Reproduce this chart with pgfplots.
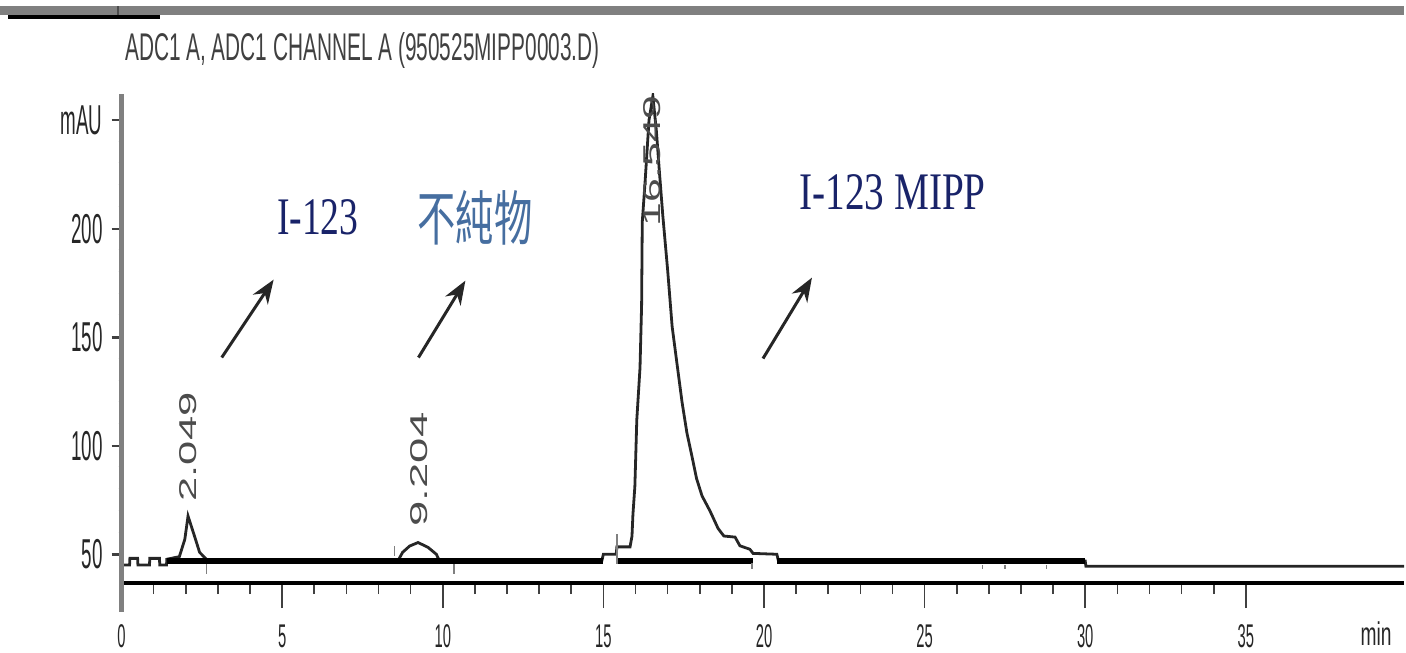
\documentclass[border=0pt]{standalone}
\usepackage{pgfplots}
\usepackage{pgfplotstable}
\pgfplotsset{compat=1.18}
\usepackage{graphicx}
\usepackage{fontspec}
\usetikzlibrary{arrows.meta}
\setmainfont{Liberation Serif}
\setsansfont{Liberation Sans}
\newfontfamily\cond[FakeStretch=0.45]{Liberation Sans}
\newfontfamily\cjk{Noto Sans CJK TC}
\definecolor{navyt}{RGB}{25,35,105}
\definecolor{steelt}{RGB}{70,110,160}
\definecolor{axgray}{RGB}{128,128,128}

% detector signal, mAU vs min
\pgfplotstableread{
x y
0 45.2
0.25 45.2
0.26 48.2
0.5 48.2
0.51 45.2
0.87 45.2
0.88 48.2
1.18 48.2
1.19 45.2
1.4 45.2
1.41 47.8
1.8 49.0
1.97 57.0
2.07 67.7
2.27 58.5
2.43 51.0
2.64 47.8
2.70 47.0
8.60 47.0
8.75 51.0
8.97 53.9
9.23 55.5
9.54 53.3
9.80 50.1
9.90 47.0
14.95 47.0
15.00 50.1
15.40 50.1
15.42 53.5
15.83 53.5
15.89 58.4
15.92 68.5
15.98 81.4
16.04 112
16.14 136
16.19 165
16.21 203
16.30 222
16.42 250
16.54 261
16.65 245
16.75 225
16.85 206
17.00 181
17.14 155
17.29 138
17.45 120
17.60 106
17.76 95
17.90 85
18.07 77
18.32 70
18.57 62
18.75 58.5
19.10 58.0
19.25 54.0
19.56 52.4
19.66 50.5
20.40 50.1
20.45 47.0
30.00 47.0
30.02 44.6
39.93 44.6
}\signal

\begin{document}
\begin{tikzpicture}
\begin{scope}[shift={(-60.85bp,292bp)}, x=0.5bp, y=-0.5bp]
  \useasboundingbox (0,0) rectangle (1406,653);
\end{scope}

% data axis with the time axis
\begin{axis}[
  at={(0,0)}, anchor=south west,
  scale only axis, width=642.15bp, height=245.1bp,
  xmin=0, xmax=39.93, ymin=36.75, ymax=262.2,
  axis x line*=bottom, axis y line=none,
  x axis line style={black, line width=1.8bp},
  xtick={0,5,...,35}, minor x tick num=4,
  xticklabels={0,5,10,15,20,25,30,35},
  ytick=\empty,
  tick align=outside, major tick length=12.5bp, minor tick length=5.5bp,
  tick style={black!75, line width=0.8bp},
  xticklabel style={font=\cond\fontsize{16.5}{16.5}\selectfont, text=black!85,
    anchor=north, inner sep=0pt, yshift=-8bp},
]
  \addplot[black!85, line width=1.4bp] table[x=x, y=y] {\signal};
  % integration baselines
  \addplot[black, line width=3.3bp] coordinates {(1.4,47) (15.0,47)};
  \addplot[black, line width=3.3bp] coordinates {(15.45,47) (19.66,47)};
  \addplot[black, line width=3.3bp] coordinates {(20.4,47) (30.0,47)};
  % peak start / stop marks
  \addplot[axgray, line width=0.8bp] coordinates {(2.64,45.5) (2.64,40.9)};
  \addplot[axgray, line width=0.8bp] coordinates {(8.50,53.8) (8.50,49.2)};
  \addplot[axgray, line width=0.8bp] coordinates {(10.35,45.5) (10.35,40.9)};
  \addplot[axgray, line width=0.8bp] coordinates {(15.42,59.3) (15.42,45.5)};
  \addplot[axgray, line width=0.8bp] coordinates {(19.62,46) (19.62,43.5)};
  \addplot[axgray, line width=0.8bp] coordinates {(26.8,45) (26.8,43.4)};
  \addplot[axgray, line width=0.8bp] coordinates {(27.5,45) (27.5,43.4)};
  \addplot[axgray, line width=0.8bp] coordinates {(28.8,45) (28.8,43.4)};
\end{axis}

% signal axis
\begin{axis}[
  at={(0,0)}, anchor=south west,
  scale only axis, width=642.15bp, height=245.1bp,
  xmin=0, xmax=39.93, ymin=36.75, ymax=262.2,
  axis x line=none, axis y line*=left,
  y axis line style={axgray, line width=2.2bp},
  xtick=\empty,
  ytick={50,100,150,200,250}, yticklabels={50,100,150,200,mAU},
  minor y tick num=4,
  tick align=outside, major tick length=5bp, minor tick length=1.5bp,
  major tick style={black!75, line width=1.2bp},
  minor tick style={black, line width=1.2bp},
  yticklabel style={font=\cond\fontsize{21}{21}\selectfont, text=black!85,
    anchor=east, inner sep=0pt, xshift=-4.3bp},
]
\end{axis}

\begin{scope}[shift={(-60.85bp,292bp)}, x=0.5bp, y=-0.5bp]
  % header rules
  \fill[axgray] (0,6) rectangle (1406,15);
  \fill[black] (8,15) rectangle (160,19);
  \fill[black!70] (117,6) rectangle (119,15);
  \node[anchor=base west, inner sep=0pt, text=black!75] at (125,61)
    {\resizebox{237.5bp}{14bp}{\sffamily ADC1 A, ADC1 CHANNEL A (950525MIPP0003.D)}};
  % y axis runs past the time axis
  \draw[axgray, line width=2.2bp] (121.7,584) -- (121.7,613);
  \node[anchor=base west, inner sep=0pt, text=black!85] at (1362,646)
    {\scalebox{1.3}[1]{\cond\fontsize{16.5}{16.5}\selectfont min}};
  % retention times
  \node[rotate=90, inner sep=0pt, text=black!70] at (188.5,447.5)
    {\resizebox{54.5bp}{8.5bp}{\sffamily 2.049}};
  \node[rotate=90, inner sep=0pt, text=black!70] at (420,470)
    {\resizebox{57bp}{8.5bp}{\sffamily 9.204}};
  \node[rotate=90, inner sep=0pt, text=black!70] at (653,161)
    {\resizebox{65.5bp}{8.5bp}{\sffamily 16.549}};
  % annotations
  \node[anchor=base west, inner sep=0pt, text=navyt] at (277,235)
    {\resizebox{40.8bp}{17.5bp}{\rmfamily I-123}};
  \node[inner sep=0pt, text=steelt] at (475.5,218)
    {\resizebox*{57.5bp}{27.5bp}{\cjk 不純物}};
  \node[anchor=base west, inner sep=0pt, text=navyt] at (800,210)
    {\resizebox{93.3bp}{17.5bp}{\rmfamily I-123 MIPP}};
  \draw[-{Stealth[length=12bp,width=9bp]}, line width=1.5bp, black!85] (222,358) -- (274,280);
  \draw[-{Stealth[length=12bp,width=9bp]}, line width=1.5bp, black!85] (419,358) -- (466,281);
  \draw[-{Stealth[length=12bp,width=9bp]}, line width=1.5bp, black!85] (764,359) -- (813,278);
\end{scope}
\end{tikzpicture}
\end{document}
